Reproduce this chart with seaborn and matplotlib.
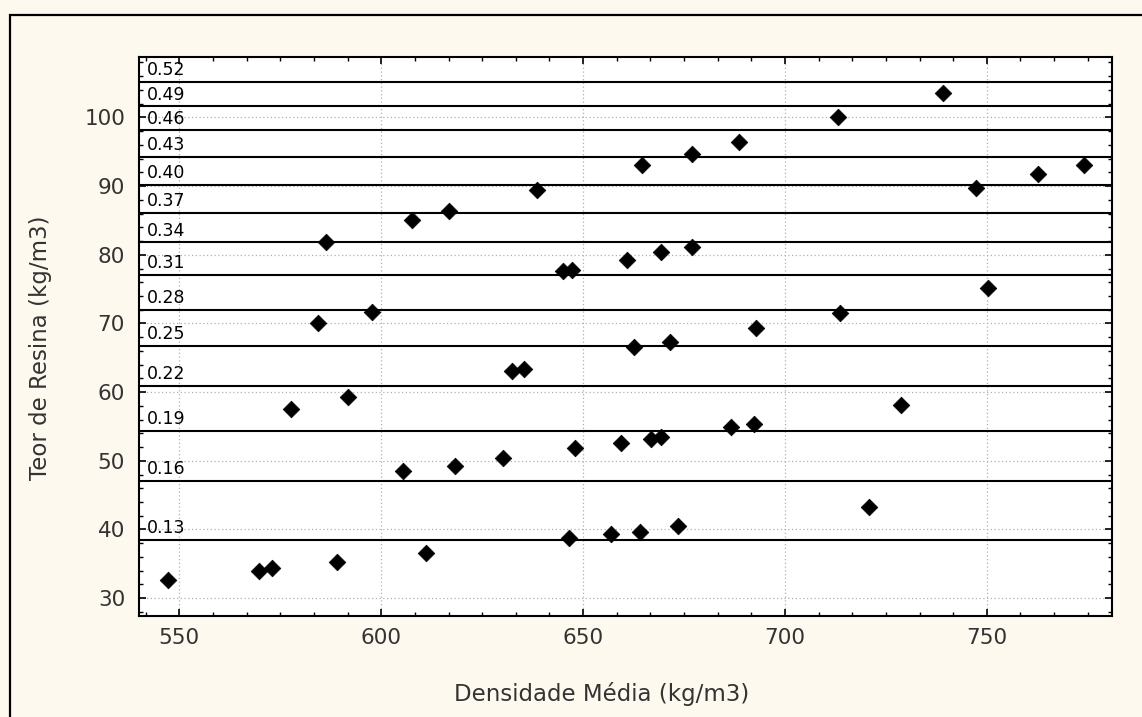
import numpy as np
import pandas as pd
import matplotlib
matplotlib.use("Agg")
import matplotlib.pyplot as plt
import seaborn as sns
from matplotlib.ticker import AutoMinorLocator
from matplotlib.patches import Rectangle
import matplotlib.transforms as mtransforms

# ---------------- data ----------------
densidade = [547.1, 569.7, 573.0, 589.0, 611.0, 605.4, 577.7, 591.8, 584.3, 597.6,
             586.2, 607.5, 616.8, 638.5, 664.6, 677.0, 688.7, 645.1, 647.2, 660.8,
             669.3, 677.0, 692.9, 662.7, 671.6, 632.3, 635.4, 618.2, 630.1, 648.0,
             659.4, 666.8, 669.3, 686.7, 692.4, 646.6, 656.9, 664.0, 673.5, 713.2,
             739.2, 747.3, 762.7, 774.1, 750.2, 713.6, 728.8, 720.8]
teor_resina = [32.7, 34.0, 34.4, 35.2, 36.6, 48.5, 57.6, 59.3, 70.1, 71.7,
               81.9, 85.0, 86.4, 89.5, 93.1, 94.7, 96.4, 77.7, 77.8, 79.3,
               80.4, 81.2, 69.3, 66.5, 67.3, 63.1, 63.4, 49.3, 50.4, 51.8,
               52.6, 53.2, 53.5, 54.9, 55.4, 38.8, 39.4, 39.6, 40.5, 100.0,
               103.6, 89.7, 91.7, 93.1, 75.1, 71.5, 58.1, 43.2]

contour_levels = ["0.13", "0.16", "0.19", "0.22", "0.25", "0.28", "0.31",
                  "0.34", "0.37", "0.40", "0.43", "0.46", "0.49", "0.52"]
contour_y = [38.5, 47.1, 54.3, 60.9, 66.7, 72.0, 77.1,
             81.8, 86.1, 90.2, 94.2, 98.1, 101.6, 105.2]

x_ticks = [550, 600, 650, 700, 750]
y_ticks = [30, 40, 50, 60, 70, 80, 90, 100]

xlabel = "Densidade Média (kg/m3)"
ylabel = "Teor de Resina (kg/m3)"

# ---------------- style ----------------
sns.set_style("white")
plt.rcParams["font.family"] = ["DejaVu Sans"]

W, H = 1142, 717
fig = plt.figure(figsize=(W / 100, H / 100), dpi=100, facecolor="#fdf9ee")
ax = fig.add_axes([139 / W, 1 - 616 / H, (1112 - 139) / W, (616 - 57) / H])
ax.set_facecolor("white")

df = pd.DataFrame({"x": densidade, "y": teor_resina})

ax.set_xlim(540, 781)
ax.set_ylim(27.4, 108.8)

# grid
ax.set_xticks(x_ticks)
ax.set_yticks(y_ticks)
ax.grid(True, which="major", color="#b0b0b0", linestyle=(0, (1, 2)), linewidth=0.9)
ax.set_axisbelow(True)

# contour lines
for lvl, yv in zip(contour_levels, contour_y):
    ax.axhline(yv, color="black", linewidth=1.5, zorder=2)
    offset = mtransforms.offset_copy(ax.get_yaxis_transform(), fig=fig, x=0, y=2, units="points")
    ax.text(0.008, yv, lvl, transform=offset, ha="left", va="bottom",
            fontsize=12.5, color="black", zorder=3)

# scatter
sns.scatterplot(data=df, x="x", y="y", ax=ax, marker="D", s=72,
                color="black", edgecolor="black", linewidth=0.5, zorder=4, legend=False)

# ticks
ax.xaxis.set_minor_locator(AutoMinorLocator(6))
ax.yaxis.set_minor_locator(AutoMinorLocator(5))
ax.tick_params(which="both", direction="in", top=True, right=True, bottom=True, left=True,
               colors="black", labelcolor="#333333")
ax.tick_params(which="major", length=5, width=1.2, labelsize=15.5)
ax.tick_params(axis="x", which="major", pad=9)
ax.tick_params(axis="y", which="major", pad=10)
ax.tick_params(which="minor", length=3, width=1.0)

for sp in ax.spines.values():
    sp.set_visible(True)
    sp.set_color("black")
    sp.set_linewidth(1.5)

ax.set_xlabel(xlabel, fontsize=16.5, color="#333333")
ax.set_ylabel(ylabel, fontsize=16.5, color="#333333")
ax.xaxis.set_label_coords(0.475, -0.118)
ax.yaxis.set_label_coords(-0.089, 0.479)

# outer frame (left & top visible)
fig.add_artist(Rectangle((10 / W, -0.2), 1.5, 1 - 15 / H + 0.2, transform=fig.transFigure,
                         fill=False, edgecolor="black", linewidth=1.6))

fig.savefig("out.png", dpi=100, facecolor=fig.get_facecolor())
